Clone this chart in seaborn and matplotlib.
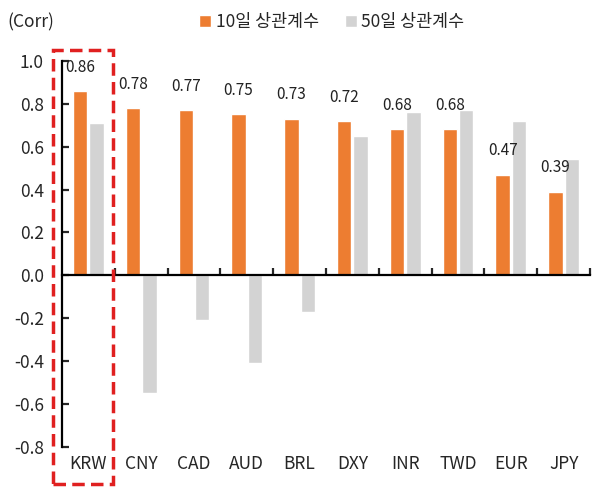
import pandas as pd
import matplotlib.pyplot as plt
import matplotlib.patches as patches
import seaborn as sns

# Data
currencies = ["KRW", "CNY", "CAD", "AUD", "BRL", "DXY", "INR", "TWD", "EUR", "JPY"]
corr_10d = [0.86, 0.78, 0.77, 0.75, 0.73, 0.72, 0.68, 0.68, 0.47, 0.39]
corr_50d = [0.71, -0.55, -0.21, -0.41, -0.17, 0.65, 0.76, 0.77, 0.72, 0.54]
series_names = ["10일 상관계수", "50일 상관계수"]
y_ticks = [-0.8, -0.6, -0.4, -0.2, 0.0, 0.2, 0.4, 0.6, 0.8, 1.0]

df = pd.DataFrame({
    "currency": currencies * 2,
    "series": [series_names[0]] * len(currencies) + [series_names[1]] * len(currencies),
    "corr": corr_10d + corr_50d,
})

sns.set_style("white")
plt.rcParams["font.family"] = ["Noto Sans CJK KR", "DejaVu Sans"]

fig = plt.figure(figsize=(5.96, 4.94), dpi=100)
ax = fig.add_axes([0.104, 0.095, 0.886, 0.782])

sns.barplot(data=df, x="currency", y="corr", hue="series", ax=ax,
            palette=["#ED7D31", "#D3D3D3"], width=0.62, gap=0.12,
            saturation=1, legend=True)

# value labels on 10-day bars
ax.bar_label(ax.containers[0], fmt="%.2f", padding=11, fontsize=11, color="#222222")

ax.set_ylim(-0.8, 1.0)
ax.set_xlim(-0.5, len(currencies) - 0.5)
ax.set_yticks(y_ticks)
ax.set_yticklabels([f"{v:.1f}" for v in y_ticks], fontsize=12.5)
ax.set_xlabel("")
ax.set_ylabel("")

for s in ["top", "right"]:
    ax.spines[s].set_visible(False)
ax.spines["left"].set_linewidth(1.6)
ax.spines["left"].set_color("black")
ax.spines["bottom"].set_position(("data", 0))
ax.spines["bottom"].set_linewidth(1.6)
ax.spines["bottom"].set_color("black")
ax.tick_params(axis="y", direction="in", length=5, width=1.6, pad=13, left=True)

# boundary ticks on the zero line
ax.set_xticks([i + 0.5 for i in range(len(currencies))], minor=True)
ax.tick_params(axis="x", which="minor", direction="in", length=5, width=1.6, bottom=True)
ax.tick_params(axis="x", which="major", length=0, labelbottom=False)

# category labels at the bottom
sec = ax.secondary_xaxis("bottom")
sec.set_xticks(range(len(currencies)))
sec.set_xticklabels(currencies, fontsize=12.5)
sec.tick_params(length=0, pad=6)
sec.spines["bottom"].set_visible(False)

# legend at the top
handles, labels = ax.get_legend_handles_labels()
ax.get_legend().remove()
fig.legend(handles, labels, loc="center", bbox_to_anchor=(0.557, 0.955), ncol=2,
           frameon=False, fontsize=12.5, handlelength=0.7, handleheight=0.7,
           handletextpad=0.25, columnspacing=1.5)

fig.text(0.013, 0.955, "(Corr)", fontsize=12.5, va="center", ha="left")

# red dashed highlight box around KRW
box = patches.Rectangle((0.089, 0.02), 0.1, 0.879, transform=fig.transFigure,
                        fill=False, edgecolor="#E02020", linewidth=2.5,
                        linestyle=(0, (3.6, 1.8)), clip_on=False)
fig.patches.append(box)

plt.savefig("out.png", dpi=100)
